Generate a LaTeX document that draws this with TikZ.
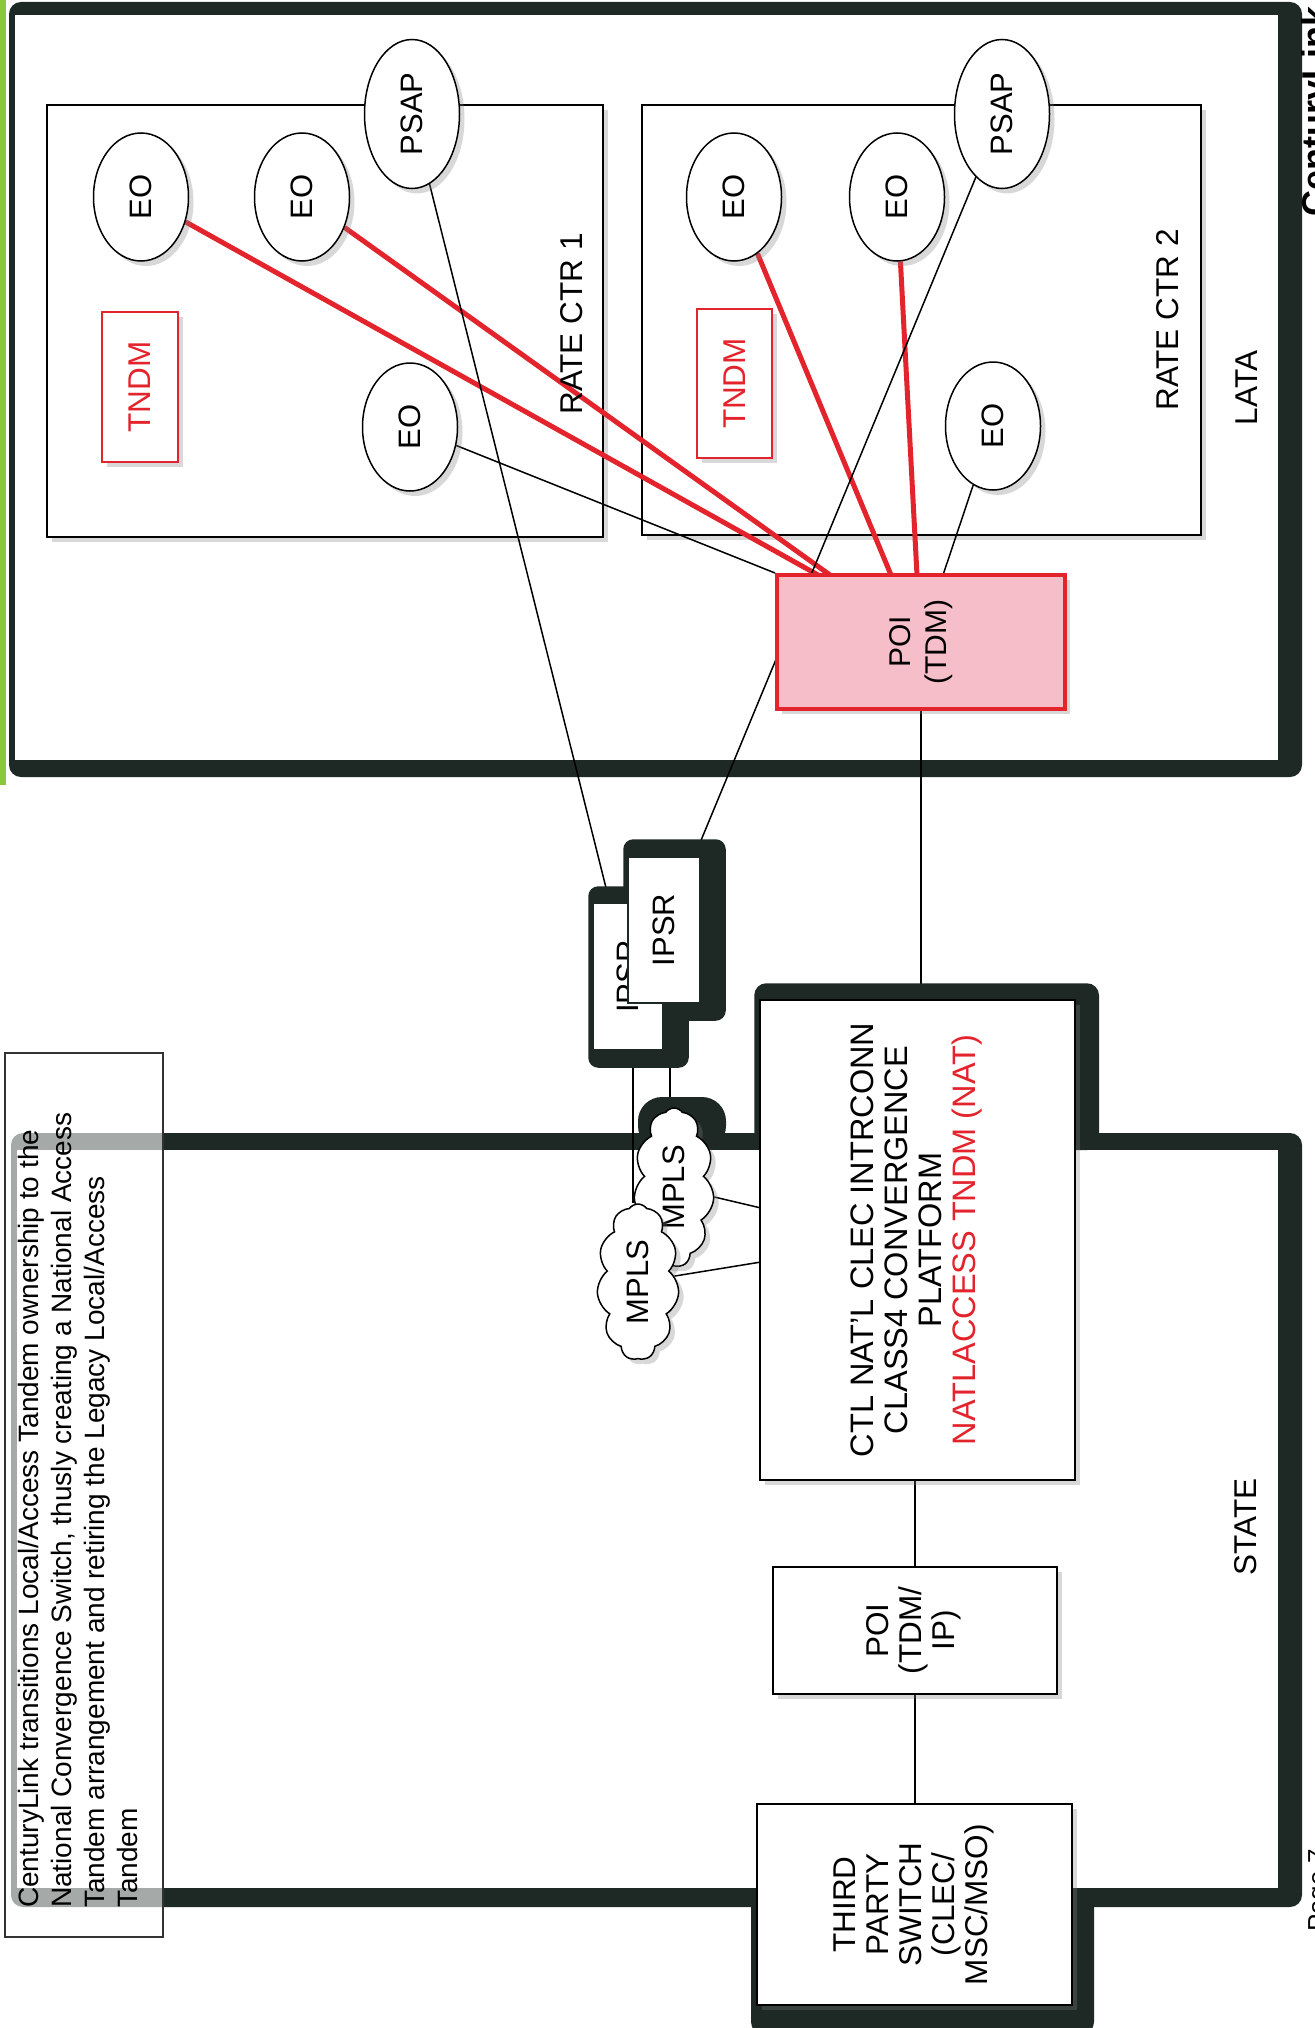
\documentclass[tikz,border=0pt]{standalone}
\usepackage{fontspec}
\setmainfont{Liberation Sans}
\usepackage{graphicx}
\usetikzlibrary{shapes.geometric,shapes.symbols,shadows,calc}
\definecolor{framedark}{RGB}{30,41,37}
\definecolor{redline}{RGB}{228,36,44}
\definecolor{pinkfill}{RGB}{245,190,201}
\definecolor{greenbar}{RGB}{140,198,63}
\pgfdeclarelayer{back}
\pgfdeclarelayer{lines}
\pgfdeclarelayer{darks}
\pgfsetlayers{back,lines,darks,main}
\begin{document}
\begin{tikzpicture}[x=1pt,y=-1pt,
  shad/.style={drop shadow={shadow xshift=5pt,shadow yshift=-5pt,opacity=.3}},
  lbl/.style={inner sep=0pt,font=\fontsize{31.5}{34}\selectfont},
  eo/.style={ellipse,draw=black,line width=1.5pt,fill=white,inner sep=0pt,minimum width=95pt,minimum height=128pt,font=\fontsize{31}{34}\selectfont,shad},
  psapst/.style={eo,minimum height=149pt},
  rcbox/.style={rectangle,draw=black,line width=1.5pt,fill=white,inner sep=0pt,shad},
  tndmbox/.style={rectangle,draw=redline,line width=1.5pt,fill=white,text=redline,inner sep=0pt,minimum width=76pt,minimum height=150pt,font=\fontsize{31.5}{34}\selectfont,shad},
  poist/.style={rectangle,draw=redline,line width=4pt,fill=pinkfill,inner sep=0pt,font=\fontsize{30}{36}\selectfont,shad},
  whitebox/.style={rectangle,draw=black,line width=1.5pt,fill=white,inner sep=0pt,font=\fontsize{31.5}{33}\selectfont,shad},
  ipsr/.style={rectangle,draw=framedark,line width=1.5pt,fill=white,inner sep=0pt,font=\fontsize{31}{34}\selectfont},
  mpls/.style={cloud,cloud puffs=11,cloud puff arc=110,cloud ignores aspect,draw=black,line width=1.5pt,fill=white,inner sep=0pt,font=\fontsize{31}{34}\selectfont,shad},
  redconn/.style={draw=redline,line width=5pt},
  conn/.style={draw=black,line width=1.5pt}
]
\useasboundingbox (0,0) rectangle (1314,2028);

\begin{pgfonlayer}{back}
  \fill[greenbar] (0,0) rectangle (6,785);
  % LATA frame
  \fill[framedark,rounded corners=12pt] (9,2) rectangle (1302,777);
  \fill[white] (15,15) rectangle (1278,760);
  % STATE frame
  \fill[framedark,rounded corners=12pt] (11,1133) rectangle (1302,1907);
  \fill[white] (17,1150) rectangle (1278,1888);
  % rate centres
  \node[rcbox,minimum width=556pt,minimum height=432pt] (rc1) at (325,321) {};
  \node[rcbox,minimum width=559pt,minimum height=430pt] (rc2) at (921.5,320) {};
\end{pgfonlayer}

% rate centre 1
\node[eo] (eoA) at (141,197) {\rotatebox{90}{EO}};
\node[eo] (eoB) at (302,197) {\rotatebox{90}{EO}};
\node[psapst] (psapA) at (412,114) {\rotatebox{90}{PSAP}};
\node[eo] (eoC) at (410,427) {\rotatebox{90}{EO}};
\node[tndmbox] (tndmA) at (140,387) {\rotatebox{90}{TNDM}};
% rate centre 2
\node[eo] (eoD) at (734,197) {\rotatebox{90}{EO}};
\node[eo] (eoE) at (897,197) {\rotatebox{90}{EO}};
\node[psapst] (psapB) at (1002,114) {\rotatebox{90}{PSAP}};
\node[eo] (eoF) at (993,426) {\rotatebox{90}{EO}};
\node[tndmbox,minimum width=75pt,minimum height=149pt] (tndmB) at (734.5,383.5) {\rotatebox{90}{TNDM}};

\node[lbl,rotate=90] (rc1lbl) at (572,324) {RATE CTR 1};
\node[lbl,rotate=90] (rc2lbl) at (1168,320) {RATE CTR 2};
\node[lbl,rotate=90] (latalbl) at (1247,388) {LATA};
\node[lbl,rotate=90] (statelbl) at (1246,1527) {STATE};

\node[poist,minimum width=288pt,minimum height=134pt] (poiT) at (921,642)
  {\rotatebox{90}{\begin{tabular}{@{}c@{}}POI\\(TDM)\end{tabular}}};

% IP routers
\node[ipsr,minimum width=70pt,minimum height=147pt] (ipsrB) at (628,976.5) {\rotatebox{90}{IPSR}};
\node[ipsr,minimum width=72pt,minimum height=146pt] (ipsrF) at (664,930) {\rotatebox{90}{IPSR}};

% MPLS clouds
\node[mpls,minimum width=80pt,minimum height=159pt] (mplsB) at (674,1187.5) {\rotatebox{90}{MPLS}};
\node[mpls,minimum width=82pt,minimum height=156pt] (mplsF) at (638,1282) {\rotatebox{90}{MPLS}};

% state level boxes
\node[whitebox,minimum width=315pt,minimum height=480pt,font=\fontsize{32.5}{34}\selectfont] (ctl) at (917.5,1240)
  {\rotatebox{90}{\begin{tabular}{@{}c@{}}CTL NAT'L CLEC INTRCONN\\CLASS4 CONVERGENCE\\PLATFORM\\\textcolor{redline}{NATLACCESS TNDM (NAT)}\end{tabular}}};
\node[whitebox,minimum width=284pt,minimum height=127pt] (poiB) at (915,1630.5)
  {\rotatebox{90}{\begin{tabular}{@{}c@{}}POI\\(TDM/\\IP)\end{tabular}}};
\node[whitebox,minimum width=315pt,minimum height=201pt] (third) at (914.5,1904.5)
  {\rotatebox{90}{\begin{tabular}{@{}c@{}}THIRD\\PARTY\\SWITCH\\(CLEC/\\MSC/MSO)\end{tabular}}};

\begin{pgfonlayer}{darks}
  \fill[framedark,rounded corners=10pt] ([xshift=-4pt,yshift=16pt]ipsrB.north west) rectangle ([xshift=25pt,yshift=-17pt]ipsrB.south east);
  \fill[framedark,rounded corners=10pt] ([xshift=-4pt,yshift=17pt]ipsrF.north west) rectangle ([xshift=25pt,yshift=-17pt]ipsrF.south east);
  \fill[framedark,rounded corners=12pt] ([xshift=-5pt,yshift=16pt]ctl.north west) rectangle (1099,1150);
  \fill[framedark,rounded corners=12pt] (751,1890) rectangle (1094,2034);
  \fill[framedark,rounded corners=24pt] (638,1097) rectangle (726,1150);
\end{pgfonlayer}

\begin{pgfonlayer}{lines}
  \coordinate (pA) at (818,575);
  \coordinate (pB) at (830,575);
  \coordinate (pD) at (891,575);
  \coordinate (pE) at (917,575);
  \coordinate (pF) at (943,575);
  \coordinate (cA) at (761,1208);
  \coordinate (cB) at (761,1262);
  \draw[redconn] (eoA) -- (pA);
  \draw[redconn] (eoB) -- (pB);
  \draw[redconn] (eoD) -- (pD);
  \draw[redconn] (eoE) -- (pE);
  \draw[conn] (eoC) -- (poiT.north west);
  \draw[conn] (eoF) -- (pF);
  \draw[conn] (psapA) -- (ipsrB);
  \draw[conn] (psapB) -- (ipsrF);
  \draw[conn] (poiT.south) -- (poiT.south |- ctl.north);
  \draw[conn] ([xshift=5pt]ipsrB.south) -- ([xshift=-5pt]mplsF.north);
  \draw[conn] ([xshift=6pt]ipsrF.south) -- ([xshift=-4pt]mplsB.north);
  \draw[conn] (mplsB) -- (cA);
  \draw[conn] (mplsF) -- (cB);
  \draw[conn] (poiB.north) -- (poiB.north |- ctl.south);
  \draw[conn] (poiB.south) -- (poiB.south |- third.north);
\end{pgfonlayer}

% note box
\node[draw=black!80,line width=1.5pt,fill=white,fill opacity=0.6,inner sep=0pt,minimum width=158pt,minimum height=884pt,anchor=north west] (note) at (4,1052) {};
\node[rotate=90,anchor=north west,inner sep=0pt,align=left,font=\fontsize{28}{33}\selectfont] (notetxt) at (18,1908)
  {CenturyLink transitions Local/Access Tandem ownership to the\\National Convergence Switch, thusly creating a National Access\\Tandem arrangement and retiring the Legacy Local/Access\\Tandem};

% clipped page fragments at the right edge
\node[rotate=90,anchor=north west,inner sep=0pt,font=\bfseries\fontsize{36}{40}\selectfont] (logo) at (1301,217) {CenturyLink};
\node[rotate=90,anchor=north west,inner sep=0pt,font=\fontsize{26}{28}\selectfont] (pagenum) at (1308,1932) {Page 7};
\end{tikzpicture}
\end{document}
